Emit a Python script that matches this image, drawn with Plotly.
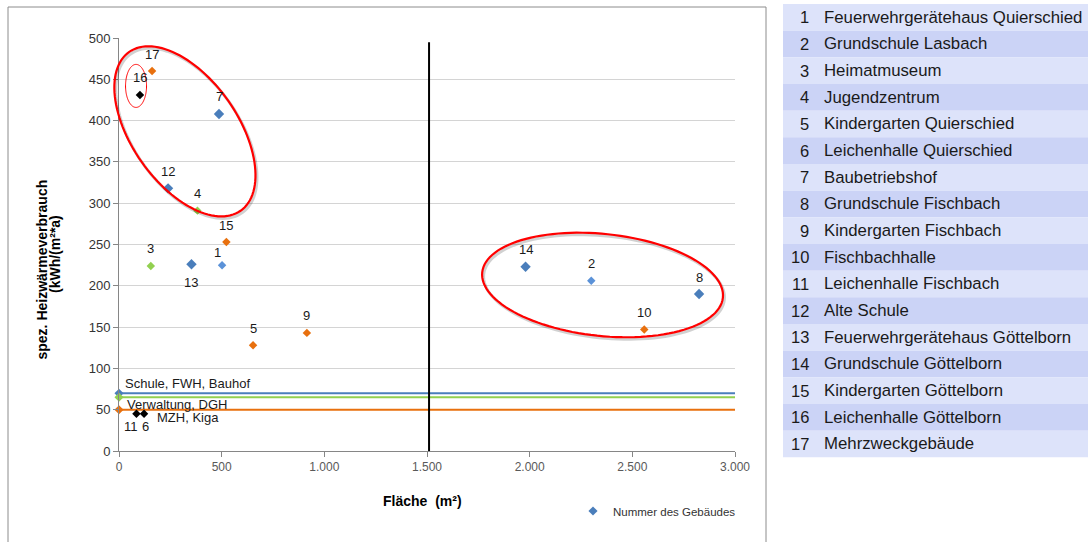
import math
import plotly.graph_objects as go

# --- Gebäudedaten -----------------------------------------------------------
nummer = list(range(1, 18))
gebaeude = [
    "Feuerwehrgerätehaus Quierschied", "Grundschule Lasbach", "Heimatmuseum",
    "Jugendzentrum", "Kindergarten Quierschied", "Leichenhalle Quierschied",
    "Baubetriebshof", "Grundschule Fischbach", "Kindergarten Fischbach",
    "Fischbachhalle", "Leichenhalle Fischbach", "Alte Schule",
    "Feuerwehrgerätehaus Göttelborn", "Grundschule Göttelborn",
    "Kindergarten Göttelborn", "Leichenhalle Göttelborn", "Mehrzweckgebäude",
]
flaeche = [502, 2300, 155, 382, 653, 122, 487, 2825, 915, 2558, 85, 239, 353, 1980, 523, 102, 161]
verbrauch = [225, 206, 224, 291, 128, 45, 408, 190, 143, 147, 45, 318, 226, 223, 253, 431, 460]
gruppe = ["schule", "schule", "verwaltung", "verwaltung", "kiga", "leichenhalle",
          "schule", "schule", "kiga", "kiga", "leichenhalle", "schule",
          "schule", "schule", "kiga", "leichenhalle", "kiga"]

# Vergleichswerte je Gebäudegruppe
ref_namen = ["Schule, FWH, Bauhof", "Verwaltung, DGH", "MZH, Kiga"]
ref_werte = [70, 65, 50]
ref_gruppe = ["schule", "verwaltung", "kiga"]

# Trennlinie bei der Fläche
grenze_flaeche = 1510
grenze_hoehe = 495

x_ticks = [0, 500, 1000, 1500, 2000, 2500, 3000]
x_ticktext = ["0", "500", "1.000", "1.500", "2.000", "2.500", "3.000"]
y_ticks = [0, 50, 100, 150, 200, 250, 300, 350, 400, 450, 500]

# --- Stil ---------------------------------------------------------------------
FARBE = {"schule": "#4A7EBB", "verwaltung": "#92D050", "kiga": "#E8700E", "leichenhalle": "#000000"}
HELL = {1: "#5B92D8", 2: "#5B92D8"}          # etwas hellere Punkte
GROSS = {7, 8, 12, 13, 14}                    # größere Rauten
# Versatz der Nummernbeschriftung (x, y) in Pixeln
LABEL_VERSATZ = {1: (-4.5, 13), 13: (0, -18), 11: (-5, -13), 6: (1, -13)}
FONT = "Liberation Sans, Arial, sans-serif"

W_FIG, H_FIG = 1088, 542
L, R, T, B = 119, 353, 38, 91
PW, PH = W_FIG - L - R, H_FIG - T - B
XMAX, YMAX = 3000, 500


def px2paper(x, y):
    return (x - L) / PW, 1 - (y - T) / PH


def data2px(x, y):
    return L + x / XMAX * PW, T + (YMAX - y) / YMAX * PH


def ellipse_path(cx, cy, a, b, winkel, dx=0.0, dy=0.0, n=120):
    """Ellipse um einen Datenpunkt, Halbachsen und Drehung in Pixeln."""
    mx, my = data2px(cx, cy)
    th = math.radians(winkel)
    pts = []
    for i in range(n + 1):
        t = 2 * math.pi * i / n
        ex = mx + a * math.cos(t) * math.cos(th) - b * math.sin(t) * math.sin(th) + dx
        ey = my + a * math.cos(t) * math.sin(th) + b * math.sin(t) * math.cos(th) + dy
        X, Y = px2paper(ex, ey)
        pts.append(f"{X:.5f},{Y:.5f}")
    return "M " + " L ".join(pts) + " Z"


fig = go.Figure()

# Vergleichslinien
for name, wert, g in zip(ref_namen, ref_werte, ref_gruppe):
    fig.add_trace(go.Scatter(
        x=[0, XMAX], y=[wert, wert], mode="lines",
        line=dict(color=FARBE[g], width=2), showlegend=False, hoverinfo="skip",
    ))
for name, wert, g in zip(ref_namen, ref_werte, ref_gruppe):
    fig.add_trace(go.Scatter(
        x=[0], y=[wert], mode="markers", cliponaxis=False,
        marker=dict(symbol="diamond", size=7, color=FARBE[g]),
        showlegend=False, hoverinfo="skip",
    ))

# Trennlinie
fig.add_trace(go.Scatter(
    x=[grenze_flaeche, grenze_flaeche], y=[0, grenze_hoehe], mode="lines",
    line=dict(color="#000000", width=2), showlegend=False, hoverinfo="skip",
))

ann = []

# Gebäudepunkte mit Nummer
for n, xv, yv, g in zip(nummer, flaeche, verbrauch, gruppe):
    fig.add_trace(go.Scatter(
        x=[xv], y=[yv], mode="markers", cliponaxis=False,
        marker=dict(symbol="diamond", size=8 if n in GROSS else 6.5,
                    color=HELL.get(n, FARBE[g])),
        showlegend=False,
        hovertemplate=f"{n} {gebaeude[n - 1]}<br>%{{x}} m²<br>%{{y}} kWh/(m²*a)<extra></extra>",
    ))
    xs, ys = LABEL_VERSATZ.get(n, (0, 17))
    ann.append(dict(x=xv, y=yv, xref="x", yref="y", text=str(n), showarrow=False,
                    xanchor="center", yanchor="middle", xshift=xs, yshift=ys,
                    font=dict(family=FONT, size=13, color="#1A1A1A")))

# Legendeneintrag
fig.add_trace(go.Scatter(
    x=[None], y=[None], mode="markers", name="Nummer des Gebäudes",
    marker=dict(symbol="diamond", size=7, color="#4A7EBB"), showlegend=True,
))

shapes = []

# Diagrammrahmen
fx0, fy0 = px2paper(8, 7)
fx1, fy1 = px2paper(766, 600)
shapes.append(dict(type="rect", xref="paper", yref="paper", x0=fx0, x1=fx1, y0=fy1, y1=fy0,
                   line=dict(color="#8C8C8C", width=1), layer="below"))

# Markierungsellipsen (mit leichtem Schatten)
ellipsen = [
    (321, 387, 97, 53, 55, 2.2),
    (2355, 201, 121, 51, 6, 2.2),
    (83, 442, 10.5, 21.5, 0, 1.0),
]
for cx, cy, a, b, w, lw in ellipsen:
    if lw > 1.5:
        shapes.append(dict(type="path", xref="paper", yref="paper",
                           path=ellipse_path(cx, cy, a, b, w, 1.5, 2.0),
                           line=dict(color="rgba(0,0,0,0.18)", width=3)))
    shapes.append(dict(type="path", xref="paper", yref="paper",
                       path=ellipse_path(cx, cy, a, b, w),
                       line=dict(color="#FF0000", width=lw)))

# Beschriftung der Vergleichslinien
ref_versatz = [(4, 10), (6, -7), (36, -8)]
for name, wert, (xs, ys) in zip(ref_namen, ref_werte, ref_versatz):
    ann.append(dict(x=0, y=wert, xref="x", yref="y", text=name, showarrow=False,
                    xanchor="left", yanchor="middle", xshift=xs, yshift=ys,
                    font=dict(family=FONT, size=13, color="#1A1A1A")))

# Achsentitel
ax, ay = px2paper(422, 501)
ann.append(dict(x=ax, y=ay, xref="paper", yref="paper", text="<b>Fläche \u00a0(m²)</b>",
                xanchor="center", yanchor="middle",
                showarrow=False, font=dict(family=FONT, size=14, color="#000000")))
t1x, t1y = px2paper(41.5, 270)
t2x, t2y = px2paper(55, 254)
ann.append(dict(x=t1x, y=t1y, xref="paper", yref="paper", text="<b>spez. Heizwärmeverbrauch</b>",
                xanchor="center", yanchor="middle",
                textangle=-90, showarrow=False, font=dict(family=FONT, size=14, color="#000000")))
ann.append(dict(x=t2x, y=t2y, xref="paper", yref="paper", text="<b>(kWh/(m²*a)</b>",
                xanchor="center", yanchor="middle",
                textangle=-90, showarrow=False, font=dict(family=FONT, size=14, color="#000000")))

# Tabelle der Gebäude
zeile_h = (457.3 - 4) / len(nummer)
for i, (n, name) in enumerate(zip(nummer, gebaeude)):
    top = 4 + i * zeile_h
    x0, y0 = px2paper(783, top)
    x1, y1 = px2paper(1095, top + zeile_h)
    shapes.append(dict(type="rect", xref="paper", yref="paper", x0=x0, x1=x1, y0=y1, y1=y0,
                       fillcolor="#DDE3FA" if i % 2 == 0 else "#CBD3F6", line=dict(width=0),
                       layer="below"))
    nx, ny = px2paper(810.5, top + zeile_h / 2)
    ann.append(dict(x=nx, y=ny, xref="paper", yref="paper", text=str(n), showarrow=False,
                    xanchor="right", yanchor="middle",
                    font=dict(family=FONT, size=16.5, color="#1A1A1A")))
    tx, _ = px2paper(822, 0)
    ann.append(dict(x=tx, y=ny, xref="paper", yref="paper", text=name, showarrow=False,
                    xanchor="left", yanchor="middle",
                    font=dict(family=FONT, size=16.8, color="#1A1A1A")))

lx, ly = px2paper(573, 511)

fig.update_layout(
    width=W_FIG, height=H_FIG, autosize=False,
    margin=dict(l=L, r=R, t=T, b=B, pad=0),
    paper_bgcolor="#FFFFFF", plot_bgcolor="#FFFFFF",
    font=dict(family=FONT),
    shapes=shapes, annotations=ann,
    showlegend=True,
    legend=dict(x=lx, y=ly, xanchor="left", yanchor="middle", bgcolor="rgba(0,0,0,0)",
                font=dict(family=FONT, size=11.5, color="#333333"), itemwidth=30),
    xaxis=dict(range=[0, XMAX], tickvals=x_ticks, ticktext=x_ticktext,
               showgrid=False, zeroline=False, showline=True, linecolor="#868686", linewidth=1,
               ticks="outside", ticklen=5, tickcolor="#868686",
               tickfont=dict(family=FONT, size=12, color="#595959"), fixedrange=True),
    yaxis=dict(range=[0, YMAX], tickvals=y_ticks,
               showgrid=True, gridcolor="#D4D4D4", gridwidth=1.3, zeroline=False,
               showline=True, linecolor="#868686", linewidth=1,
               ticks="outside", ticklen=5, tickcolor="#868686",
               tickfont=dict(family=FONT, size=13, color="#333333"), fixedrange=True),
)

fig.write_html("out.html")
